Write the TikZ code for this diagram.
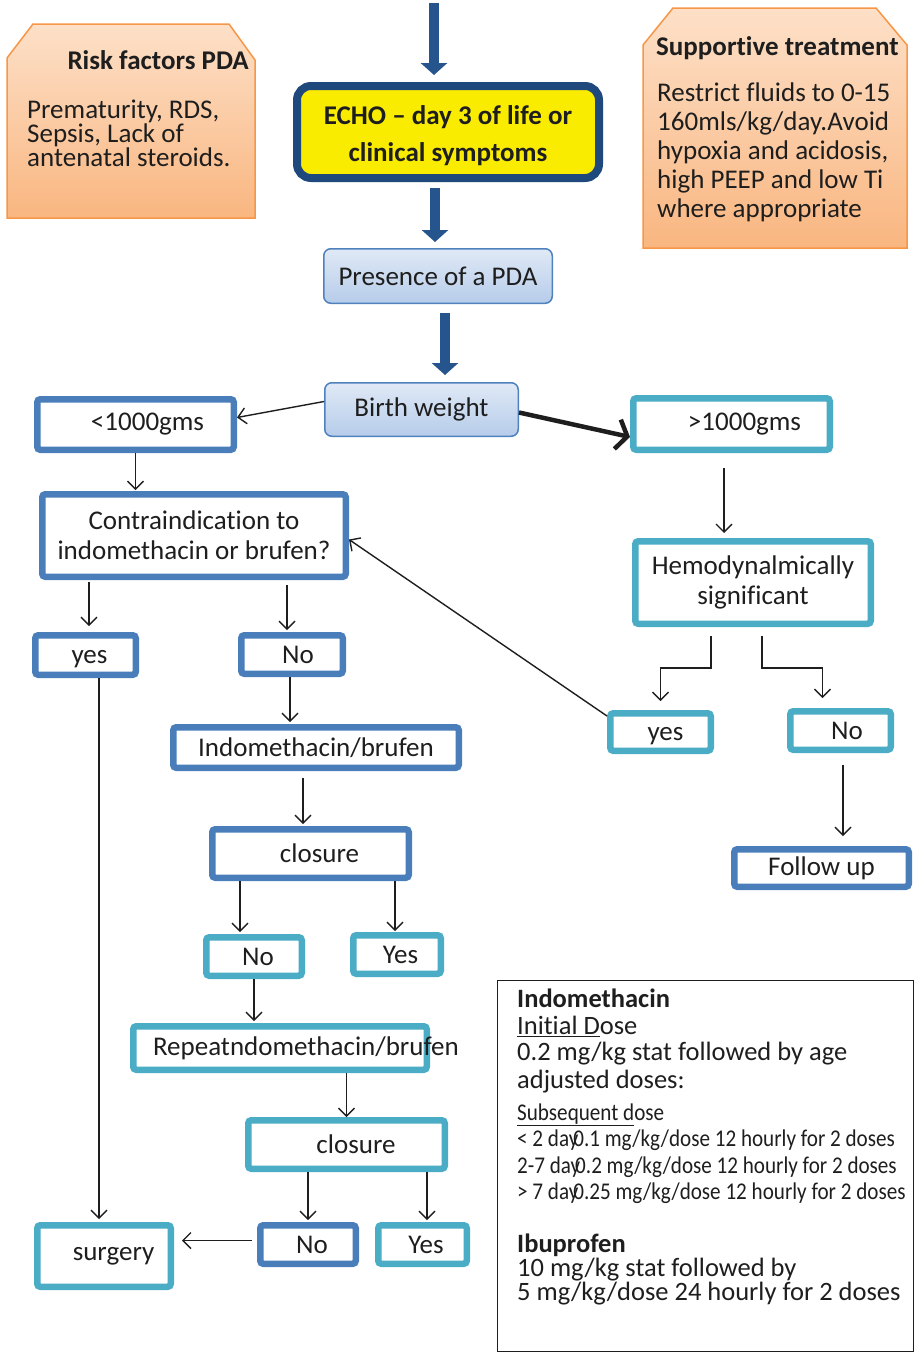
\documentclass[tikz,border=0pt]{standalone}
\usepackage{fontspec}
\setmainfont{Carlito}[Ligatures = NoCommon]
\newfontfamily\narrowfont[FakeStretch = 0.88, Ligatures = NoCommon]{Carlito}
\usepackage{tikz}
\usetikzlibrary{arrows.meta}
\definecolor{boxblue}{RGB}{74,126,187}
\definecolor{boxteal}{RGB}{75,172,198}
\definecolor{arrowblue}{RGB}{38,84,140}
\definecolor{echoedge}{RGB}{31,73,125}
\definecolor{echofill}{RGB}{250,236,0}
\definecolor{peachtop}{RGB}{253,224,200}
\definecolor{peachbot}{RGB}{249,182,128}
\definecolor{peachedge}{RGB}{247,150,70}
\definecolor{paletop}{RGB}{224,233,246}
\definecolor{palebot}{RGB}{182,204,234}
\definecolor{paleedge}{RGB}{79,129,189}
\definecolor{ink}{RGB}{30,30,30}
\tikzset{bluebox/.style = {draw = boxblue, fill = white, line width = 6.5pt, rounded corners = 3pt, inner sep = 0}}
\tikzset{tealbox/.style = {draw = boxteal, fill = white, line width = 6.5pt, rounded corners = 3pt, inner sep = 0}}
\tikzset{palebox/.style = {draw = paleedge, line width = 1.5pt, rounded corners = 7pt, top color = paletop, bottom color = palebot, inner sep = 0}}
\tikzset{echobox/.style = {draw = echoedge, fill = echofill, line width = 8pt, rounded corners = 14pt, inner sep = 0, align = center, font = \fontsize{27}{37}\selectfont\bfseries}}
\tikzset{notebox/.style = {draw = peachedge, line width = 1.5pt, top color = peachtop, bottom color = peachbot}}
\tikzset{link/.style = {draw = ink, line width = 1.4pt, -{Straight Barb[length = 8pt, width = 16pt]}}}
\tikzset{heavylink/.style = {draw = ink, line width = 4.5pt, -{Straight Barb[length = 10pt, width = 30pt]}}}
\tikzset{bigarrow/.style = {draw = arrowblue, line width = 10pt, -{Triangle[length = 12pt, width = 26pt]}}}

\begin{document}
\begin{tikzpicture}[x = 1pt, y = -1pt, font = \fontsize{27}{30}\selectfont, text = ink]
    \useasboundingbox (0, 0) rectangle (917, 1355);

    \path [notebox] (7, 58) -- (33, 24) -- (229, 24) -- (255, 60) -- (255, 218) -- (7, 218) -- cycle;
    \node [anchor = east, inner sep = 0, font = \fontsize{27}{30}\selectfont\bfseries] (risktitle) at (249, 60) {Risk factors PDA};
    \node [anchor = north west, align = left, inner sep = 0, font = \fontsize{27}{23}\selectfont] (riskbody) at (27, 100) {Prematurity, RDS,\\Sepsis, Lack of\\antenatal steroids.};

    \path [notebox] (643, 45) -- (673, 8) -- (876, 8) -- (907, 45) -- (907, 248) -- (643, 248) -- cycle;
    \node [anchor = west, inner sep = 0, font = \fontsize{27}{30}\selectfont\bfseries] (suptitle) at (656, 48) {Supportive treatment};
    \node [anchor = north west, align = left, inner sep = 0, font = \fontsize{27}{29}\selectfont] (supbody) at (657, 83) {Restrict fluids to 0-15\\160mls/kg/day.Avoid\\hypoxia and acidosis,\\high PEEP and low Ti\\where appropriate};

    \coordinate (start) at (434, 3);
    \node [echobox, minimum width = 302, minimum height = 92] (echo) at (448, 132) {\rule{0pt}{26pt}ECHO – day 3 of life or\\clinical symptoms};
    \node [palebox, minimum width = 228.5, minimum height = 54.5] (pda) at (438, 276) {Presence of a PDA};
    \node [palebox, minimum width = 193.5, minimum height = 53.5] (weight) at (421.5, 409.5) {Birth weight};

    \node [bluebox, minimum width = 196.5, minimum height = 50.5] (light) at (135.5, 424.5) {\hspace*{24pt}<1000gms};
    \node [tealbox, minimum width = 196.5, minimum height = 51.5] (heavy) at (731.5, 424) {\hspace*{26pt}>1000gms};
    \node [bluebox, minimum width = 303.5, minimum height = 82.5, align = center] (contra) at (194, 535.5) {Contraindication to\\indomethacin or brufen?};
    \node [tealbox, minimum width = 235.5, minimum height = 82.5, align = center] (hemo) at (753, 582.5) {Hemodynalmically\\significant};

    \node [bluebox, minimum width = 100.5, minimum height = 39.5] (contrayes) at (85.5, 655) {\hspace*{8pt}\rule{0pt}{22pt}yes};
    \node [bluebox, minimum width = 101.5, minimum height = 38.5] (contrano) at (292, 654.5) {\hspace*{12pt}No};
    \node [tealbox, minimum width = 100.5, minimum height = 37.5] (hemoyes) at (660.5, 732) {\hspace*{10pt}\rule{0pt}{22pt}yes};
    \node [tealbox, minimum width = 100.5, minimum height = 38.5] (hemono) at (840.5, 730.5) {\hspace*{13pt}No};
    \node [bluebox, minimum width = 174.5, minimum height = 37.5] (followup) at (821.5, 868) {Follow up};

    \node [bluebox, minimum width = 285.5, minimum height = 40.5] (drug) at (316, 747.5) {Indomethacin/brufen};
    \node [bluebox, minimum width = 196.5, minimum height = 48.5] (closeone) at (310.5, 853.5) {\hspace*{18pt}closure};
    \node [tealbox, minimum width = 95.5, minimum height = 38.5] (closeoneno) at (254, 956.5) {\hspace*{8pt}No};
    \node [tealbox, minimum width = 87.5, minimum height = 38.5] (closeoneyes) at (397, 954.5) {\hspace*{7pt}Yes};
    \node [tealbox, minimum width = 293.5, minimum height = 43.5] (repeat) at (280, 1048) {\makebox[254pt][l]{Repeatndomethacin/brufen}};
    \node [tealbox, minimum width = 196.5, minimum height = 48.5] (closetwo) at (346.5, 1144.5) {\hspace*{19pt}closure};
    \node [bluebox, minimum width = 95.5, minimum height = 38.5] (closetwono) at (308, 1244.5) {\hspace*{8pt}No};
    \node [tealbox, minimum width = 88.5, minimum height = 38.5] (closetwoyes) at (422.5, 1244.5) {\hspace*{7pt}Yes};
    \node [tealbox, minimum width = 133.5, minimum height = 61.5] (surgery) at (104, 1256) {\hspace*{19pt}surgery};

    \node [draw = ink, line width = 1.3pt, minimum width = 416, minimum height = 371, inner sep = 0] (dosing) at (705.5, 1166) {};
    \node [anchor = north west, align = left, inner sep = 0, font = \fontsize{26.5}{26.5}\selectfont] (dosetext) at (517, 989) {{\bfseries Indomethacin}\\
        \underline{Initial D}ose\\
        0.2 mg/kg stat followed by age\\[1.5pt]
        adjusted doses:\\[5pt]
        {\narrowfont\fontsize{24}{26.5}\selectfont\underline{Subsequent d}ose}\\
        {\narrowfont\fontsize{24}{26.5}\selectfont < 2 day\kern-5pt 0.1 mg/kg/dose 12 hourly for 2 doses}\\
        {\narrowfont\fontsize{24}{26.5}\selectfont 2-7 day\kern-5pt 0.2 mg/kg/dose 12 hourly for 2 doses}\\
        {\narrowfont\fontsize{24}{26.5}\selectfont > 7 day\kern-5pt 0.25 mg/kg/dose 12 hourly for 2 doses}\\[26.5pt]
        {\bfseries Ibuprofen}\\[-3pt]
        10 mg/kg stat followed by\\[-2pt]
        5 mg/kg/dose 24 hourly for 2 doses};

    \draw [bigarrow, shorten >= 7pt] (start) -- (start |- echo.north);
    \draw [bigarrow, shorten <= 6pt, shorten >= 6pt] ([xshift = -3pt]pda.north |- echo.south) -- ([xshift = -3pt]pda.north);
    \draw [bigarrow, shorten <= 9pt, shorten >= 7pt] ([xshift = 7pt]pda.south) -- ([xshift = 7pt]pda.south |- weight.north);

    \draw [link] ([yshift = 8pt]weight.west) -- ([yshift = 7pt]light.east);
    \draw [heavylink] ([yshift = -3pt]weight.east) -- ([yshift = -13pt]heavy.west);
    \draw [link, shorten >= 1pt] (light.south) -- (light.south |- contra.north);
    \draw [link, shorten <= 15pt, shorten >= 5pt] ([xshift = -7.5pt]heavy.south) -- ([xshift = -7.5pt]heavy.south |- hemo.north);

    \draw [link, shorten <= 2pt, shorten >= 6pt] ([xshift = 3.5pt]contrayes.north |- contra.south) -- ([xshift = 3.5pt]contrayes.north);
    \draw [link, shorten <= 5pt, shorten >= 2pt] ([xshift = -5pt]contrano.north |- contra.south) -- ([xshift = -5pt]contrano.north);
    \draw [link, shorten <= 9pt, shorten >= 9pt] ([xshift = -42pt]hemo.south) -- ++(0, 41) -| (hemoyes.north);
    \draw [link, shorten <= 9pt, shorten >= 10pt] ([xshift = 9pt]hemo.south) -- ++(0, 41) -| ([xshift = -18pt]hemono.north);
    \draw [link] ([yshift = -6pt]hemoyes.north west) -- ([yshift = -4pt]contra.east);
    \draw [link, shorten <= 12pt, shorten >= 10pt] ([xshift = 2.5pt]hemono.south) -- ([xshift = 2.5pt]hemono.south |- followup.north);

    \draw [link, shorten >= 2pt] ([xshift = -2pt]contrano.south) -- ([xshift = -2pt]contrano.south |- drug.north);
    \draw [link, shorten <= 7pt, shorten >= 2pt] ([xshift = -7.5pt]closeone.north |- drug.south) -- ([xshift = -7.5pt]closeone.north);
    \draw [link, shorten >= 2pt] ([xshift = -14pt]closeoneno.north |- closeone.south) -- ([xshift = -14pt]closeoneno.north);
    \draw [link, shorten >= 1pt] ([xshift = -2pt]closeoneyes.north |- closeone.south) -- ([xshift = -2pt]closeoneyes.north);
    \draw [link, shorten >= 2pt] (closeoneno.south) -- (closeoneno.south |- repeat.north);
    \draw [link] (closetwo.north |- repeat.south) -- (closetwo.north);
    \draw [link, shorten >= 2pt] (closetwono.north |- closetwo.south) -- (closetwono.north);
    \draw [link, shorten >= 2pt] ([xshift = 4.5pt]closetwoyes.north |- closetwo.south) -- ([xshift = 4.5pt]closetwoyes.north);
    \draw [link, shorten >= 3pt] ([xshift = -5pt]surgery.north |- contrayes.south) -- ([xshift = -5pt]surgery.north);
    \draw [link, shorten <= 5pt, shorten >= 8pt] ([yshift = 4pt]closetwono.west) -- ([yshift = 4pt]closetwono.west -| surgery.east);
\end{tikzpicture}
\end{document}
